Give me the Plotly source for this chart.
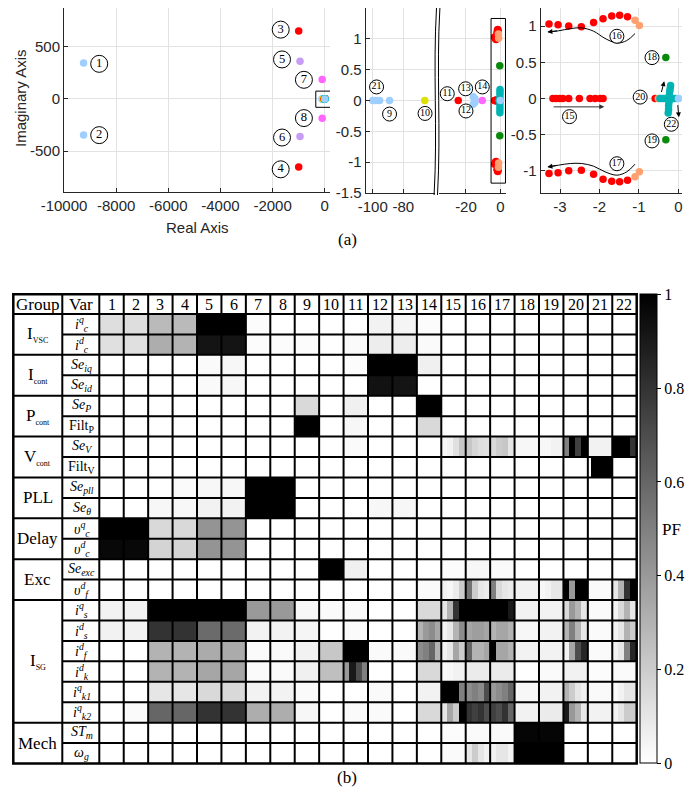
import plotly.graph_objects as go

# page body has an 8px margin: work in window pixels and convert
OFF = 8
W, H = 694 - 2 * OFF, 796 - 2 * OFF
def PX(v): return (v - OFF) / W
def PY(v): return 1 - (v - OFF) / H

SANS = "Liberation Sans, Arial, sans-serif"
SERIF = "Liberation Serif, Times New Roman, serif"
TXT = "#262626"
GRID = "#e2e2e2"

# ---------------- (a) eigenvalues ----------------
lb_x = [-9250, -9250, -89, -100, -98.5, -97, -95.5, -15.8, -15.8, -14.8, -14.8, 0.0]
lb_y = [345, -345, 0, 0, 0, 0, 0, 0.06, -0.06, 0.03, -0.03, 0.0]
lav_x = [-950, -950]
lav_y = [360, -360]
mag_x = [-100, -100, -10.5]
mag_y = [185, -185, 0]
yel_x = [-66]
yel_y = [0]
red_x = [-1000, -1000, -24.5,
         -3.18, -3.10, -3.01, -2.93, -2.78, -2.51, -2.24, -2.11, -1.98, -1.91,
         -3.28, -3.05, -2.78, -2.46, -2.15, -1.91, -1.69, -1.49, -1.29,
         -3.28, -3.05, -2.78, -2.46, -2.15, -1.91, -1.69, -1.49, -1.29,
         -0.59]
red_y = [650, -650, 0,
         0, 0, 0, 0, 0, 0, 0, 0, 0, 0,
         1.03, 1.02, 1.00, 0.99, 1.05, 1.10, 1.14, 1.15, 1.13,
         -1.035, -1.026, -0.998, -0.989, -1.044, -1.113, -1.141, -1.150, -1.127,
         0]
org_x = [-1.10, -0.99, -1.10, -0.99, -0.51]
org_y = [1.08, 1.01, -1.081, -1.012, 0]
grn_x = [-0.32, -0.32]
grn_y = [0.565, -0.57]
cya_x = [-0.47, -0.42, -0.37, -0.32, -0.27, -0.17, -0.12, -0.07,
         -0.20, -0.21, -0.22, -0.23, -0.24, -0.25, -0.25, -0.26, -0.22]
cya_y = [0, 0, 0, 0, 0, 0, 0, 0,
         0.18, 0.14, 0.10, 0.05, -0.05, -0.10, -0.15, -0.20, 0]
lb2_x = [0.0]
lb2_y = [0.0]

# circled mode labels
lab1_x = [-8650, -8650, -1690, -1690, -1640, -1640, -800, -800]
lab1_y = [336, -346, 663, -673, 378, -369, 183, -183]
lab1_t = ["1", "2", "3", "4", "5", "6", "7", "8"]
lab2l_x = [-97.5, -89, -65.8]
lab2l_y = [0.22, -0.22, -0.21]
lab2l_t = ["21", "9", "10"]
lab2r_x = [-30.9, -20.2, -20.0, -10.5]
lab2r_y = [0.11, 0.19, -0.17, 0.22]
lab2r_t = ["11", "13", "12", "14"]
lab3_x = [-2.76, -1.56, -1.56, -0.67, -0.67, -0.97, -0.18]
lab3_y = [-0.25, 0.86, -0.90, 0.565, -0.585, 0.02, -0.355]
lab3_t = ["15", "16", "17", "18", "19", "20", "22"]

# arrow paths (plot 3)
arr16_x = [-1.10, -1.31, -1.56, -1.86, -2.15, -2.45, -2.74, -3.04, -3.30]
arr16_y = [0.897, 0.80, 0.767, 0.83, 0.93, 0.975, 0.965, 0.935, 0.92]
arr17_x = [-1.10, -1.31, -1.56, -1.86, -2.15, -2.45, -2.74, -3.04, -3.30]
arr17_y = [-0.906, -1.012, -1.058, -1.012, -0.934, -0.897, -0.897, -0.92, -0.943]

# ---------------- (b) participation factors ----------------
modes = list(range(1, 23))
groups = ["I<sub><span style='font-size:8px'>VSC</span></sub>",
          "I<sub><span style='font-size:8px'>cont</span></sub>",
          "P<sub><span style='font-size:8px'>cont</span></sub>",
          "V<sub><span style='font-size:8px'>cont</span></sub>",
          "PLL", "Delay", "Exc",
          "I<sub><span style='font-size:8px'>SG</span></sub>", "Mech"]
group_sizes = [2, 2, 2, 2, 2, 2, 2, 6, 2]
var_labels = [
    "<i>i</i><sup><i>q</i></sup><sub><i>c</i></sub>",
    "<i>i</i><sup><i>d</i></sup><sub><i>c</i></sub>",
    "<i>Se</i><sub><i>iq</i></sub>",
    "<i>Se</i><sub><i>id</i></sub>",
    "<i>Se</i><sub><i>P</i></sub>",
    "Filt<sub>P</sub>",
    "<i>Se</i><sub><i>V</i></sub>",
    "Filt<sub>V</sub>",
    "<i>Se</i><sub><i>pll</i></sub>",
    "<i>Se</i><sub><i>θ</i></sub>",
    "<i>υ</i><sup><i>q</i></sup><sub><i>c</i></sub>",
    "<i>υ</i><sup><i>d</i></sup><sub><i>c</i></sub>",
    "<i>Se</i><sub><i>exc</i></sub>",
    "<i>υ</i><sup><i>d</i></sup><sub><i>f</i></sub>",
    "<i>i</i><sup><i>q</i></sup><sub><i>s</i></sub>",
    "<i>i</i><sup><i>d</i></sup><sub><i>s</i></sub>",
    "<i>i</i><sup><i>d</i></sup><sub><i>f</i></sub>",
    "<i>i</i><sup><i>d</i></sup><sub><i>k</i></sub>",
    "<i>i</i><sup><i>q</i></sup><sub><i>k1</i></sub>",
    "<i>i</i><sup><i>q</i></sup><sub><i>k2</i></sub>",
    "<i>ST</i><sub><i>m</i></sub>",
    "<i>ω</i><sub><i>g</i></sub>",
]

r_icq = [0.13, 0.13, 0.27, 0.27, 1.0, 1.0, 0.01, 0, 0, 0, 0, 0.05, 0.04, 0.01, 0, 0, 0, 0, 0, 0, 0, 0]
r_icd = [0.12, 0.12, 0.32, 0.30, 0.92, 0.92, 0.01, 0.01, 0.01, 0, 0.02, 0.07, 0.07, 0.02, 0, 0, 0, 0, 0, 0, 0, 0]
r_seiq = [0, 0, 0, 0, 0.02, 0.03, 0, 0, 0, 0, 0.01, 1.0, 1.0, 0.06, 0, 0, 0, 0, 0, 0, 0, 0]
r_seid = [0, 0, 0, 0, 0.02, 0.03, 0, 0, 0, 0, 0, 0.93, 0.92, 0, 0, 0, 0, 0, 0, 0, 0, 0]
r_sep = [0, 0, 0, 0, 0, 0, 0, 0, 0.15, 0, 0.06, 0, 0, 1.0, 0, 0, 0, 0, 0, 0, 0, 0]
r_filtp = [0, 0, 0, 0, 0, 0, 0, 0, 1.0, 0, 0.03, 0, 0, 0.15, 0, 0, 0, 0, 0, 0, 0, 0]
r_sev = [0, 0, 0, 0, 0, 0, 0, 0, 0, 0, 0.02, 0, 0, 0,
         [0.03, 0.05, 0.12, 0.22], [0.22, 0.16, 0.13, 0.12], [0.15, 0.2, 0.22, 0.1], 0.03,
         [0.03, 0.03, 0.05, 0.05], [0.5, 1.0, 0.75, 1.0], 0.05, [1.0, 1.0, 1.0, 0.8]]
r_filtv = [0, 0, 0, 0, 0, 0, 0, 0, 0, 0, 0, 0, 0, 0, 0, 0, 0, 0, 0, 0,
           [0.02, 1, 1, 1, 1, 1, 1, 1], 0]
r_sepll = [0, 0, 0, 0.02, 0.03, 0.03, 1.0, 1.0, 0, 0, 0, 0, 0, 0, 0, 0, 0, 0, 0, 0, 0, 0]
r_seth = [0, 0, 0.03, 0.03, 0.05, 0.05, 1.0, 1.0, 0, 0, 0, 0.03, 0.03, 0, 0, 0, 0, 0, 0, 0, 0, 0]
r_vcq = [1.0, 1.0, 0.15, 0.15, 0.42, 0.42, 0, 0, 0, 0, 0, 0, 0, 0, 0, 0, 0, 0, 0, 0, 0, 0]
r_vcd = [0.97, 0.97, 0.17, 0.17, 0.42, 0.42, 0, 0, 0, 0, 0, 0, 0, 0, 0, 0, 0, 0, 0, 0, 0, 0]
r_seexc = [0, 0, 0, 0, 0, 0, 0, 0, 0, 1.0, 0.06, 0, 0, 0, 0.01, 0.03, 0.02, 0, 0, 0, 0, 0]
r_vfd = [0, 0, 0, 0, 0, 0, 0, 0, 0, 0, 0, 0, 0, 0.02,
         [0.05, 0.03, 0.08, 0.2], [0.55, 0.2, 0.1, 0.08], [0.5, 0.15, 0.1, 0.08], 0.05,
         [0.03, 0.05, 0.1, 0.1], [1.0, 0.4, 1.0, 1.0], 0.02, [0.1, 0.3, 0.8, 1.0]]
r_isq = [0.05, 0.05, 1.0, 1.0, 1.0, 1.0, 0.4, 0.4, 0.03, 0.02, 0.02, 0, 0, 0.15,
         [0.1, 0.3, 0.8, 1.0], 1.0, [1.0, 1.0, 1.0, 0.9], 0.05, 0.05,
         [0.15, 0.4, 0.3, 0.1], 0.02, [0.05, 0.15, 0.3, 0.1]]
r_isd = [0.05, 0.05, 0.8, 0.8, 0.58, 0.58, 0.05, 0.05, 0.04, 0, 0.02, 0, 0,
         [0.3, 0.4, 0.45, 0.35], [0.05, 0.1, 0.3, 0.45], [0.35, 0.38, 0.38, 0.35],
         [0.3, 0.35, 0.35, 0.3], 0.03, 0.05, [0.3, 0.5, 0.3, 0.1], 0.02, [0.05, 0.1, 0.3, 0.2]]
r_ifd = [0, 0, 0.3, 0.3, 0.33, 0.33, 0.02, 0.02, 0.05, 0.22, 1.0, 0.02, 0.02,
         [0.45, 0.5, 0.6, 0.3], [0.05, 0.1, 0.35, 0.2], [0.6, 0.3, 0.3, 0.35],
         [1.0, 0.35, 0.35, 0.3], 0.05, 0.05, [0.05, 0.35, 0.7, 0.85], 0.02, [0.05, 0.1, 0.5, 0.85]]
r_ikd = [0, 0, 0.3, 0.3, 0.35, 0.35, 0.02, 0.02, 0.06, 0.25, [0.4, 0.9, 0.7, 0.5], 0, 0, 0.15,
         [0.02, 0.03, 0.05, 0.05], 0.08, 0.08, 0, 0.02, 0.05, 0.01, 0.02]
r_ik1 = [0, 0, 0.1, 0.1, 0.15, 0.15, 0.05, 0.05, 0.02, 0, 0, 0.02, 0, 0.05,
         [1.0, 1.0, 1.0, 0.5], [0.45, 0.5, 0.45, 0.7], [0.4, 0.45, 0.5, 0.6], 0.03, 0.05,
         [0.3, 0.2, 0.1, 0.05], 0.02, [0.02, 0.05, 0.1, 0.1]]
r_ik2 = [0, 0.02, 0.6, 0.6, 0.8, 0.8, 0.32, 0.32, 0.03, 0, 0.02, 0.02, 0, 0.15,
         [0.1, 0.35, 0.2, 1.0], [0.8, 0.75, 0.8, 0.7], [0.75, 0.7, 0.8, 0.6], 0.05, 0.08,
         [0.9, 0.4, 0.3, 0.1], 0.05, [0.05, 0.1, 0.2, 0.2]]
r_stm = [0, 0, 0, 0, 0, 0, 0, 0, 0, 0, 0, 0, 0, 0, 0.01, 0.02, 0.02, 0.98, 0.98, 0, 0, 0]
r_wg = [0, 0, 0, 0, 0, 0, 0, 0, 0, 0, 0, 0, 0, 0, 0.02, [0.1, 0.2, 0.1, 0.05],
        [0.05, 0.1, 0.1, 0.05], 1.0, 1.0, 0, 0, 0]

pf_rows = [r_icq, r_icd, r_seiq, r_seid, r_sep, r_filtp, r_sev, r_filtv, r_sepll, r_seth,
           r_vcq, r_vcd, r_seexc, r_vfd, r_isq, r_isd, r_ifd, r_ikd, r_ik1, r_ik2, r_stm, r_wg]

NSUB = 8
def expand(row):
    out = []
    for v in row:
        vals = v if isinstance(v, list) else [v]
        rep = NSUB // len(vals)
        for s in vals:
            out.extend([s] * rep)
    return out

Z = [expand(r) for r in pf_rows]
XS = [k - 0.5 + (j + 0.5) / NSUB for k in modes for j in range(NSUB)]
YS = list(range(len(pf_rows)))

fig = go.Figure()

pts = [(lb_x, lb_y, "#9fcfff"), (lav_x, lav_y, "#c79cf5"), (mag_x, mag_y, "#ff66ff"),
       (yel_x, yel_y, "#e0e000"), (red_x, red_y, "#ff0000"), (org_x, org_y, "#ffa070"),
       (grn_x, grn_y, "#0a8a0a"), (cya_x, cya_y, "#00b4b4"), (lb2_x, lb2_y, "#9fcfff")]
for xa, ya in [("x", "y"), ("x2", "y2"), ("x3", "y3"), ("x4", "y4")]:
    for xs, ys, c in pts:
        fig.add_trace(go.Scatter(x=xs, y=ys, mode="markers", xaxis=xa, yaxis=ya,
                                 marker=dict(color=c, size=7.5, line=dict(width=0)),
                                 showlegend=False, hoverinfo="skip"))

def labels(xs, ys, ts, xa, ya, size, fsize):
    fig.add_trace(go.Scatter(x=xs, y=ys, text=ts, mode="markers+text", xaxis=xa, yaxis=ya,
                             textposition="middle center",
                             textfont=dict(family=SERIF, size=fsize, color="black"),
                             marker=dict(color="white", size=size, line=dict(color="black", width=1)),
                             showlegend=False, hoverinfo="skip"))

labels(lab1_x, lab1_y, lab1_t, "x", "y", 17, 12.5)
labels(lab2l_x, lab2l_y, lab2l_t, "x2", "y2", 14, 10)
labels(lab2r_x, lab2r_y, lab2r_t, "x3", "y3", 14, 10)

for ax_, ay_ in [(arr16_x, arr16_y), (arr17_x, arr17_y)]:
    fig.add_trace(go.Scatter(x=ax_, y=ay_, mode="lines", xaxis="x4", yaxis="y4",
                             line=dict(color="black", width=1, shape="spline"),
                             showlegend=False, hoverinfo="skip"))
labels(lab3_x, lab3_y, lab3_t, "x4", "y4", 14, 10)

TL, TV, TD, TR = 13.3, 62.3, 99.3, 636.7
TT, TH, TB = 294.3, 314.0, 763.5

fig.add_trace(go.Heatmap(
    z=Z, x=XS, y=YS, xaxis="x5", yaxis="y5", zmin=0, zmax=1,
    colorscale=[[0, "#ffffff"], [1, "#000000"]], hoverinfo="skip",
    colorbar=dict(x=PX(640), xanchor="left", xpad=0, y=PY(TT), yanchor="top", ypad=0,
                  len=(TB - TT) / H, lenmode="fraction", thickness=17,
                  outlinewidth=1, outlinecolor="black",
                  ticks="outside", ticklen=4, tickcolor="black",
                  tickvals=[0, 0.2, 0.4, 0.6, 0.8, 1],
                  ticktext=["0", "0.2", "0.4", "0.6", "0.8", "1"],
                  tickfont=dict(family=SERIF, size=16, color="black"))))

ax_common = dict(showgrid=True, gridcolor=GRID, zeroline=False, showline=True,
                 linecolor=TXT, linewidth=1, ticks="inside", ticklen=4, tickcolor=TXT,
                 tickfont=dict(family=SANS, size=15, color=TXT))

fig.update_layout(
    width=W, height=H, margin=dict(l=0, r=0, t=0, b=0, autoexpand=False),
    paper_bgcolor="white", plot_bgcolor="white",
    xaxis=dict(ax_common, domain=[PX(64), PX(330)], range=[-10000, 200], anchor="y",
               tickvals=[-10000, -8000, -6000, -4000, -2000, 0],
               ticktext=["-10000", "-8000", "-6000", "-4000", "-2000", "0"]),
    yaxis=dict(ax_common, domain=[PY(192), PY(8)], range=[-890, 870], anchor="x",
               tickvals=[-500, 0, 500], ticktext=["-500", "0", "500"]),
    xaxis2=dict(ax_common, domain=[PX(365.7), PX(435)], range=[-104.6, -59.3], anchor="y2",
                tickvals=[-100, -80], ticktext=["-100", "-80"]),
    yaxis2=dict(ax_common, domain=[PY(193), PY(8)], range=[-1.5, 1.5], anchor="x2",
                tickvals=[-1.5, -1, -0.5, 0, 0.5, 1, 1.5],
                ticktext=["-1.5", "-1", "-0.5", "0", "0.5", "1", "1.5"]),
    xaxis3=dict(ax_common, domain=[PX(439), PX(506)], range=[-35.7, 3.3], anchor="y3",
                tickvals=[-20, 0], ticktext=["-20", "0"]),
    yaxis3=dict(ax_common, domain=[PY(193), PY(8)], range=[-1.5, 1.5], anchor="x3",
                showline=False, ticks="", showticklabels=False,
                tickvals=[-1.5, -1, -0.5, 0, 0.5, 1, 1.5]),
    xaxis4=dict(ax_common, domain=[PX(540.7), PX(682)], range=[-3.49, 0.09], anchor="y4",
                tickvals=[-3, -2, -1, 0], ticktext=["-3", "-2", "-1", "0"]),
    yaxis4=dict(ax_common, domain=[PY(192.7), PY(8)], range=[-1.3, 1.25], anchor="x4",
                tickvals=[-1, -0.5, 0, 0.5, 1], ticktext=["-1", "-0.5", "0", "0.5", "1"]),
    xaxis5=dict(domain=[PX(TD), PX(TR)], range=[0.5, 22.5], anchor="y5", visible=False),
    yaxis5=dict(domain=[PY(TB), PY(TH)], range=[21.5, -0.5], anchor="x5", visible=False),
)

shapes = []
annots = []

def note(x, y, text, font, angle=0):
    annots.append(dict(x=PX(x), y=PY(y), xref="paper", yref="paper", text=text,
                       showarrow=False, xanchor="center", yanchor="middle",
                       textangle=angle, font=font))

# boxes around zoomed regions
shapes.append(dict(type="rect", xref="x", yref="y", x0=-345, x1=257, y0=-80, y1=75,
                   line=dict(color="black", width=1)))
shapes.append(dict(type="rect", xref="x3", yref="y3", x0=-5.4, x1=3.0, y0=-1.34, y1=1.33,
                   line=dict(color="black", width=1)))
# axis break marks
for bx in [435.3, 438.7]:
    shapes.append(dict(type="path", xref="paper", yref="paper",
                       path=f"M {PX(bx + 1.2)},{PY(8)} C {PX(bx - 2.5)},{PY(70)} {PX(bx + 2.5)},{PY(130)} {PX(bx - 1.2)},{PY(195)}",
                       line=dict(color="black", width=1)))

# arrows in plot 3
def arrow(x, y, ax, ay, color="black"):
    annots.append(dict(x=x, y=y, ax=ax, ay=ay, xref="x4", yref="y4", axref="x4", ayref="y4",
                       text="", showarrow=True, arrowhead=2, arrowsize=1, arrowwidth=1,
                       arrowcolor=color, standoff=0))
arrow(-3.32, 0.92, -3.04, 0.935)
arrow(-3.32, -0.945, -3.04, -0.92)
arrow(-1.88, -0.115, -3.2, -0.115, "#333333")
arrow(-0.36, 0.24, -0.44, 0.07)
arrow(0.01, -0.26, -0.02, -0.07)

# axis titles and panel labels
sans15 = dict(family=SANS, size=15, color=TXT)
serif17 = dict(family=SERIF, size=17, color="black")
note(197, 227, "Real Axis", sans15)
note(20, 98, "Imaginary Axis", sans15, -90)
note(347, 239, "(a)", serif17)
note(347, 777, "(b)", serif17)
note(671, 529, "PF", serif17)

# table grid
CW = (TR - TD) / len(modes)
RH = (TB - TH) / len(pf_rows)

def hline(x0, x1, y, w=2):
    shapes.append(dict(type="line", xref="paper", yref="paper", x0=PX(x0), x1=PX(x1),
                       y0=PY(y), y1=PY(y), line=dict(color="black", width=w)))
def vline(x, y0, y1, w=2):
    shapes.append(dict(type="line", xref="paper", yref="paper", x0=PX(x), x1=PX(x),
                       y0=PY(y0), y1=PY(y1), line=dict(color="black", width=w)))

bounds = set()
acc = 0
for g in group_sizes:
    acc += g
    bounds.add(acc)
for r in range(1, len(pf_rows)):
    y = TH + r * RH
    hline(TL if r in bounds else TV, TR, y)
hline(TL, TR, TH)
vline(TV, TT, TB)
for k in range(0, len(modes)):
    vline(TD + k * CW, TT, TB)
shapes.append(dict(type="rect", xref="paper", yref="paper", x0=PX(TL), x1=PX(TR),
                   y0=PY(TB), y1=PY(TT), line=dict(color="black", width=2.5)))

# header texts
note((TL + TV) / 2, (TT + TH) / 2, "Group", serif17)
note((TV + TD) / 2, (TT + TH) / 2, "Var", serif17)
for i, m in enumerate(modes):
    note(TD + (i + 0.5) * CW, (TT + TH) / 2 + 0.5, str(m),
         dict(family=SERIF, size=16, color="black"))
for r, lab in enumerate(var_labels):
    note((TV + TD) / 2 + 1, TH + (r + 0.5) * RH, lab,
         dict(family=SERIF, size=14, color="black"))
acc = 0
for g, n in zip(groups, group_sizes):
    yc = TH + (acc + n / 2) * RH
    acc += n
    note((TL + TV) / 2, yc, g, serif17)

fig.update_layout(shapes=shapes, annotations=annots)
fig.write_html("out.html")
